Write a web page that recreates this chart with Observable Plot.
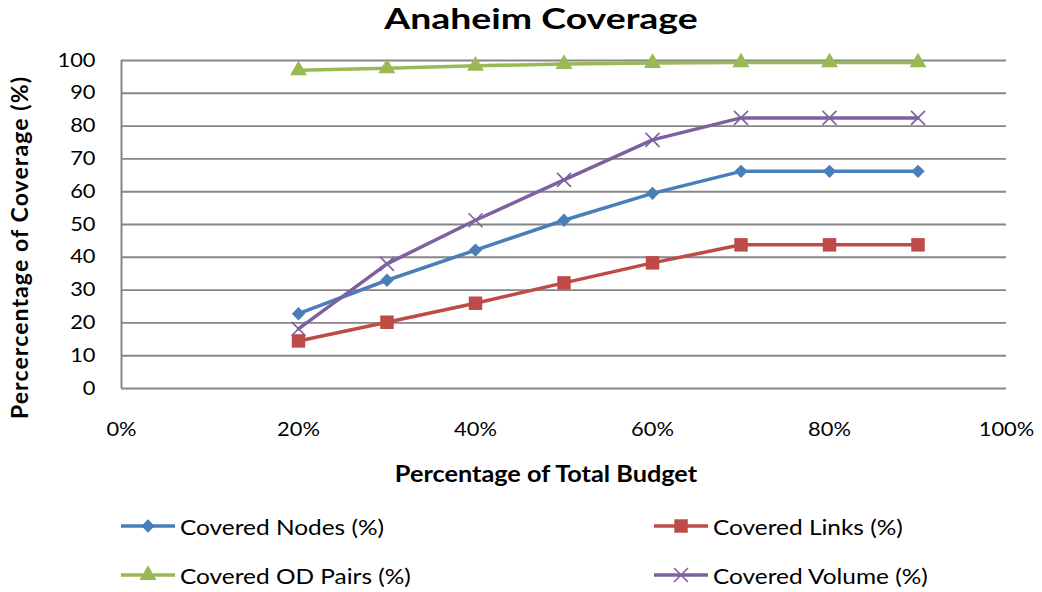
<!DOCTYPE html>
<html>
<head>
<meta charset="utf-8">
<script src="https://cdn.jsdelivr.net/npm/d3@7"></script>
<script src="https://cdn.jsdelivr.net/npm/@observablehq/plot@0.6"></script>
<style>
  html, body { margin: 0; padding: 0; background: #fff; }
  #wrap { position: relative; width: 1042px; height: 592px; overflow: hidden; font-family: Lato, "Open Sans", sans-serif; color: #000; }
  #title { position: absolute; left: 40px; top: 0; width: 1002px; text-align: center; font-weight: bold; font-size: 29px; line-height: 35px; transform: scaleX(1.29); transform-origin: 50% 50%; }
  #chart { position: absolute; left: 0; top: 45px; }
  .leg { position: absolute; display: flex; align-items: center; font-size: 22px; white-space: nowrap; }
  .leg svg { display: block; margin-right: 4px; flex: none; }
  .leg span { display: inline-block; transform: scaleX(1.11); transform-origin: 0 50%; }
</style>
</head>
<body>
<div id="wrap">
  <div id="title">Anaheim Coverage</div>
  <div id="chart"></div>
  <div id="legend"></div>
</div>
<script>
// ---- data ----
const budget = [0.2, 0.3, 0.4, 0.5, 0.6, 0.7, 0.8, 0.9];
const coveredNodes = [22.8, 33.0, 42.2, 51.3, 59.5, 66.2, 66.2, 66.2];
const coveredLinks = [14.5, 20.2, 26.0, 32.2, 38.3, 43.8, 43.8, 43.8];
const coveredODPairs = [97.0, 97.6, 98.4, 98.9, 99.2, 99.4, 99.4, 99.4];
const coveredVolume = [18.2, 38.0, 51.3, 63.6, 75.8, 82.5, 82.5, 82.5];
const seriesNames = ["Covered Nodes (%)", "Covered Links (%)", "Covered OD Pairs (%)", "Covered Volume (%)"];
const xTicks = [0, 0.2, 0.4, 0.6, 0.8, 1.0];
const yTicks = [0, 10, 20, 30, 40, 50, 60, 70, 80, 90, 100];
const xTitle = "Percentage of Total Budget";
const yTitle = "Percercentage of Coverage (%)";

// ---- styles ----
const colors = ["#4A7EBB", "#BE4B48", "#98B954", "#7D60A0"];
const symbols = ["diamond2", "square", "triangle", "times"];
const radii = [6.0, 7.6, 6.3, 6.4];
const valuesBySeries = [coveredNodes, coveredLinks, coveredODPairs, coveredVolume];

const rows = [];
seriesNames.forEach((name, i) => {
  budget.forEach((b, j) => rows.push({series: name, idx: i, budget: b, value: valuesBySeries[i][j]}));
});

const marks = [
  Plot.gridY(yTicks, {stroke: "#868686", strokeOpacity: 1, strokeWidth: 1.9}),
  Plot.ruleX([0], {stroke: "#868686", strokeWidth: 2}),
  Plot.axisY(yTicks, {tickSize: 0, tickPadding: 26, fontSize: 19, label: null}),
  Plot.axisX(xTicks, {tickSize: 0, tickPadding: 34, fontSize: 19, tickFormat: d3.format(".0%"), label: null}),
  Plot.text([xTitle], {frameAnchor: "bottom", dx: -18, dy: 86, fontSize: 22, fontWeight: "bold", lineAnchor: "middle", textAnchor: "middle"}),
  Plot.text([yTitle], {frameAnchor: "left", rotate: -90, dx: -101, dy: 23, fontSize: 23, fontWeight: "bold", lineAnchor: "middle", textAnchor: "middle"})
];
seriesNames.forEach((name, i) => {
  const d = rows.filter(r => r.idx === i);
  marks.push(Plot.line(d, {x: "budget", y: "value", stroke: colors[i], strokeWidth: 3.5}));
  if (symbols[i] === "times") {
    marks.push(Plot.dot(d, {x: "budget", y: "value", symbol: "times", stroke: colors[i], strokeWidth: 1.6, r: radii[i]}));
  } else {
    marks.push(Plot.dot(d, {x: "budget", y: "value", symbol: symbols[i], fill: colors[i], stroke: "none", r: radii[i]}));
  }
});

const chart = Plot.plot({
  width: 1042,
  height: 460,
  marginLeft: 121,
  marginRight: 36,
  marginTop: 15,
  marginBottom: 117,
  style: {fontFamily: "Lato, 'Open Sans', sans-serif", color: "#000", background: "#fff", overflow: "visible"},
  x: {domain: [0, 1]},
  y: {domain: [0, 100]},
  marks
});

// widen horizontal texts a little (the reference's type is horizontally stretched)
const stretch = 1.15;
chart.querySelectorAll("text").forEach(el => {
  const tr = el.getAttribute("transform") || "";
  if (tr.includes("rotate")) { el.setAttribute("letter-spacing", "1.1"); return; }
  const xa = el.getAttribute("x");
  if (xa !== null && !isNaN(+xa)) {
    el.removeAttribute("x");
    el.setAttribute("transform", `${tr} translate(${+xa},0) scale(${stretch},1)`);
  } else {
    el.setAttribute("transform", `${tr} scale(${stretch},1)`);
  }
});
document.getElementById("chart").appendChild(chart);

// ---- legend (HTML, below the chart) ----
const legendPos = [[120, 508], [653, 508], [120, 557], [653, 557]];
const legend = document.getElementById("legend");
seriesNames.forEach((name, i) => {
  const item = document.createElement("div");
  item.className = "leg";
  item.style.left = legendPos[i][0] + "px";
  item.style.top = legendPos[i][1] + "px";
  item.style.height = "36px";
  const sym = d3.create("svg").attr("width", 56).attr("height", 20);
  sym.append("line").attr("x1", 1).attr("x2", 55).attr("y1", 10).attr("y2", 10).attr("stroke", colors[i]).attr("stroke-width", 3.5);
  const area = Math.PI * radii[i] * radii[i];
  const symType = {diamond2: d3.symbolDiamond2, square: d3.symbolSquare, triangle: d3.symbolTriangle, times: d3.symbolTimes}[symbols[i]];
  const p = sym.append("path").attr("d", d3.symbol(symType, area)()).attr("transform", "translate(28,10)");
  if (symbols[i] === "times") p.attr("fill", "none").attr("stroke", colors[i]).attr("stroke-width", 1.6);
  else p.attr("fill", colors[i]);
  item.appendChild(sym.node());
  const t = document.createElement("span");
  t.textContent = name;
  item.appendChild(t);
  legend.appendChild(item);
});
</script>
</body>
</html>
